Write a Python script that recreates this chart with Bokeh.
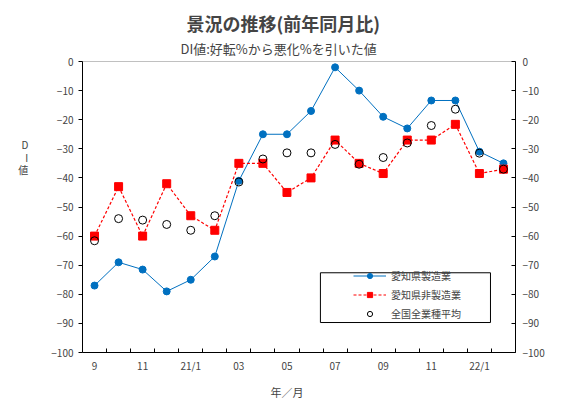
from bokeh.plotting import figure
from bokeh.models import (Range1d, FixedTicker, LinearAxis, Legend,
                          LegendItem, BoxAnnotation, Title)
from bokeh.embed import file_html
from bokeh.resources import INLINE

FONT = "Noto Sans CJK JP"

months = ["9", "10", "11", "12", "21/1", "02", "03", "04", "05", "06",
          "07", "08", "09", "10", "11", "12", "22/1", "02"]
aichi_mfg = [-77, -69, -71.5, -79, -75, -67, -41, -25, -25, -17,
             -2, -10, -19, -23, -13.4, -13.4, -31, -35]
aichi_nonmfg = [-60, -43, -60, -42, -53, -58, -35, -35, -45, -40,
                -27, -35, -38.5, -27, -27, -21.6, -38.5, -37]
national = [-61.6, -54, -54.5, -56, -58, -53, -41.4, -33.5, -31.4, -31.4,
            -28.5, -35.3, -33, -28, -22, -16.4, -31.5, -37]
y_ticks = list(range(-100, 1, 10))

title_text = "景況の推移(前年同月比)"
subtitle_text = "DI値:好転%から悪化%を引いた値"
x_label = "年／月"
y_label = ["D", "I", "値"]
series_names = ["愛知県製造業", "愛知県非製造業", "全国全業種平均"]

n = len(months)
xs = [i + 0.5 for i in range(n)]

p = figure(width=548, height=406, output_backend="svg", toolbar_location=None,
           x_range=Range1d(0, n), y_range=Range1d(-100, 0),
           min_border_left=82, min_border_right=33, min_border_top=61,
           min_border_bottom=53, x_axis_location=None, y_axis_location=None)
p.outline_line_color = "#C0C0C0"
p.xgrid.visible = False
p.ygrid.visible = False
p.background_fill_color = "white"
p.border_fill_color = "white"

# bottom axis
xax = LinearAxis(ticker=FixedTicker(ticks=[x for x in xs[::2]],
                                    minor_ticks=list(range(1, n))))
xax.major_label_overrides = {xs[i]: months[i] for i in range(0, n, 2)}
xax.major_tick_line_color = None
xax.major_tick_in = 0
xax.major_tick_out = 0
xax.minor_tick_in = 4
xax.minor_tick_out = 0
xax.minor_tick_line_color = "black"
xax.axis_line_color = "black"
xax.major_label_text_font = FONT
xax.major_label_text_font_size = "10px"
xax.major_label_standoff = 5
p.add_layout(xax, "below")

# left axis (stacked vertical label)
lax = LinearAxis(ticker=FixedTicker(ticks=y_ticks))
lax.major_tick_out = 4
lax.major_tick_in = 0
lax.minor_tick_line_color = None
lax.major_label_text_font = FONT
lax.major_label_text_font_size = "10px"
lax.major_label_standoff = 5
lax.axis_line_color = "black"
lax.axis_label = "\n".join(y_label) + "\n" * 8
lax.axis_label_orientation = "horizontal"
lax.axis_label_text_font = FONT
lax.axis_label_text_font_size = "10px"
lax.axis_label_text_font_style = "normal"
lax.axis_label_text_line_height = 0.83
lax.axis_label_standoff = 20
p.add_layout(lax, "left")

# right axis
rax = LinearAxis(ticker=FixedTicker(ticks=y_ticks))
rax.major_tick_out = 0
rax.major_tick_in = 4
rax.minor_tick_line_color = None
rax.major_label_text_font = FONT
rax.major_label_text_font_size = "10px"
rax.major_label_standoff = 7
rax.axis_line_color = "black"
p.add_layout(rax, "right")

blue = "#0070C0"
red = "#FF0000"

bl = p.line(xs, aichi_mfg, line_color=blue, line_width=1)
bs = p.scatter(xs, aichi_mfg, marker="circle", size=7, fill_color=blue,
               line_color=blue)
rl = p.line(xs, aichi_nonmfg, line_color=red, line_width=1.2, line_dash="3 2")
rs = p.scatter(xs, aichi_nonmfg, marker="square", size=8, fill_color=red,
               line_color=red)
cs = p.scatter(xs, national, marker="circle", size=8, fill_color=None,
               line_color="black", line_width=1)

legend = Legend(items=[LegendItem(label=series_names[0], renderers=[bl, bs]),
                       LegendItem(label=series_names[1], renderers=[rl, rs]),
                       LegendItem(label=series_names[2], renderers=[cs])],
                location=(269, 29), padding=2, spacing=4, margin=0,
                glyph_width=33, glyph_height=13, label_height=13,
                label_standoff=5, label_text_font=FONT,
                label_text_font_size="10px",
                border_line_alpha=0, background_fill_alpha=0)
p.add_layout(legend)
p.add_layout(BoxAnnotation(left=9.89, right=16.96, top=-72.6, bottom=-89.7,
                           fill_alpha=0, line_color="black", line_width=1,
                           line_alpha=1))

# titles (first added sits closest to the frame)
p.add_layout(Title(text=subtitle_text, align="left", offset=98,
                   text_font=FONT, text_font_size="13px",
                   text_font_style="normal", text_line_height=0.6,
                   standoff=8), "above")
p.add_layout(Title(text=title_text, align="left", offset=104,
                   text_font=FONT, text_font_size="18px",
                   text_font_style="bold", text_line_height=0.85,
                   padding=dict(left=0, right=0, top=6, bottom=0),
                   standoff=-6), "above")
p.add_layout(Title(text=x_label, align="left", offset=188,
                   text_font=FONT, text_font_size="11px",
                   text_font_style="normal", standoff=13), "below")

open("out.html", "w").write(file_html(p, INLINE))
